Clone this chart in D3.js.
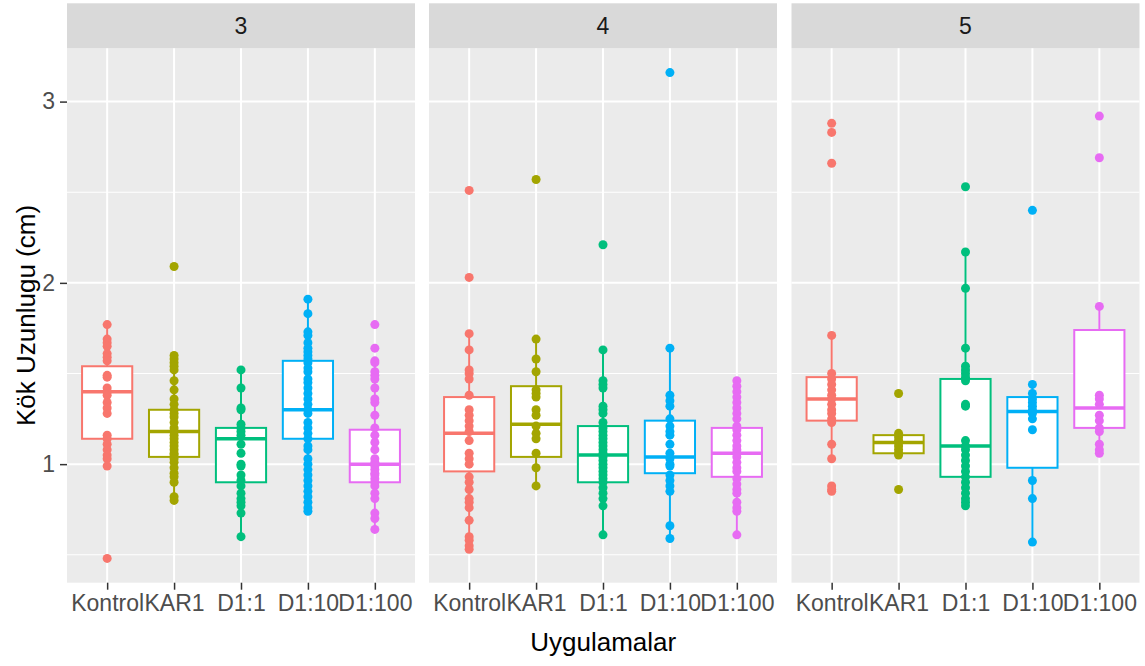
<!DOCTYPE html>
<html>
<head>
<meta charset="utf-8">
<script src="https://cdn.jsdelivr.net/npm/d3@7"></script>
<style>
  body { margin: 0; background: #fff; }
  text { font-family: "Liberation Sans", Arial, sans-serif; }
</style>
</head>
<body>
<svg id="chart" width="1145" height="666"></svg>
<script>
// Data
var categories = ['Kontrol', 'KAR1', 'D1:1', 'D1:10', 'D1:100'],
	panels = ['3', '4', '5'],
	colors = ['#F8766D', '#A3A500', '#00BF7D', '#00B0F6', '#E76BF3'];

// points per panel, one array per category
var points3 = [
	[1.77,1.69,1.67,1.65,1.61,1.59,1.57,1.49,1.48,1.42,1.40,1.38,1.34,1.31,1.28,1.16,1.14,1.11,1.08,1.05,1.03,0.99,0.48],
	[2.09,1.60,1.58,1.56,1.54,1.52,1.46,1.41,1.36,1.33,1.30,1.28,1.26,1.23,1.20,1.18,1.16,1.14,1.12,1.10,1.08,1.06,1.05,1.03,1.01,0.98,0.95,0.93,0.90,0.82,0.80],
	[1.52,1.42,1.31,1.30,1.22,1.20,1.18,1.16,1.11,1.06,1.00,0.99,0.94,0.91,0.88,0.84,0.81,0.79,0.77,0.73,0.60],
	[1.91,1.83,1.73,1.71,1.67,1.64,1.62,1.60,1.58,1.56,1.53,1.51,1.47,1.45,1.42,1.39,1.36,1.33,1.30,1.28,1.23,1.20,1.17,1.14,1.10,1.08,1.03,1.00,0.97,0.94,0.91,0.88,0.85,0.82,0.79,0.76,0.74],
	[1.77,1.64,1.57,1.56,1.51,1.49,1.47,1.42,1.36,1.34,1.27,1.20,1.16,1.12,1.08,1.03,1.01,0.99,0.97,0.95,0.94,0.92,0.90,0.88,0.84,0.81,0.73,0.70,0.64]
];
var points4 = [
	[2.51,2.03,1.72,1.63,1.52,1.50,1.47,1.38,1.30,1.27,1.24,1.21,1.18,1.13,1.06,1.03,1.00,0.93,0.90,0.86,0.81,0.79,0.76,0.69,0.60,0.58,0.55,0.53],
	[2.57,1.69,1.58,1.51,1.41,1.39,1.37,1.30,1.27,1.21,1.17,1.14,1.06,0.98,0.88],
	[2.21,1.63,1.46,1.44,1.42,1.32,1.30,1.28,1.23,1.20,1.18,1.16,1.14,1.12,1.10,1.08,1.06,1.04,1.02,1.00,0.98,0.96,0.94,0.92,0.90,0.87,0.84,0.81,0.77,0.61],
	[3.16,1.64,1.38,1.35,1.32,1.25,1.21,1.18,1.16,1.11,1.06,1.03,1.00,0.99,0.94,0.91,0.88,0.85,0.66,0.59],
	[1.46,1.43,1.40,1.37,1.34,1.31,1.28,1.25,1.21,1.19,1.16,1.13,1.10,1.08,1.06,1.04,1.01,0.98,0.96,0.92,0.89,0.86,0.84,0.79,0.76,0.74,0.61]
];
var points5 = [
	[2.88,2.83,2.66,1.71,1.50,1.47,1.44,1.41,1.38,1.36,1.33,1.30,1.28,1.25,1.23,1.11,1.03,0.88,0.86,0.85],
	[1.39,1.17,1.15,1.13,1.12,1.10,1.08,1.06,1.05,0.86],
	[2.53,2.17,1.97,1.64,1.54,1.52,1.50,1.48,1.46,1.33,1.32,1.13,1.10,1.08,1.05,1.02,0.99,0.96,0.93,0.90,0.87,0.84,0.81,0.79,0.77],
	[2.40,1.44,1.39,1.36,1.34,1.32,1.30,1.28,1.25,1.19,0.91,0.81,0.57],
	[2.92,2.69,1.87,1.38,1.36,1.33,1.27,1.24,1.20,1.18,1.11,1.08,1.06]
];

// box stats per category: [lower whisker, q1, median, q3, upper whisker]
var box3 = [[0.99,1.14,1.40,1.54,1.77],[0.80,1.04,1.18,1.30,1.60],[0.60,0.90,1.14,1.20,1.52],[0.74,1.14,1.30,1.57,1.91],[0.64,0.90,1.00,1.19,1.57]],
	box4 = [[0.53,0.96,1.17,1.37,1.72],[0.88,1.04,1.22,1.43,1.69],[0.61,0.90,1.05,1.21,1.63],[0.59,0.95,1.04,1.24,1.64],[0.61,0.93,1.06,1.20,1.46]],
	box5 = [[1.03,1.24,1.36,1.48,1.71],[1.05,1.06,1.12,1.16,1.17],[0.77,0.93,1.10,1.47,2.17],[0.57,0.98,1.29,1.37,1.44],[1.06,1.20,1.31,1.74,1.87]];

var yTicks = [1, 2, 3],
	yMinor = [0.5, 1.5, 2.5];

var allPoints = [points3, points4, points5],
	allBoxes = [box3, box4, box5];

// Layout
var svg = d3.select('#chart'),
	panelX = [67, 429, 791.5],
	panelW = 348,
	plotTop = 48.3, plotBottom = 582.7,
	stripTop = 3.3,
	axisFont = 23;

var ext = d3.extent(d3.merge(allPoints.map(function(p) { return d3.merge(p); }))),
	pad = (ext[1] - ext[0]) * 0.05;
var y = d3.scaleLinear().domain([ext[0] - pad, ext[1] + pad]).range([plotBottom, plotTop]);

panels.forEach(function(p, pi) {
	var x0 = panelX[pi];
	var x = d3.scalePoint().domain(categories).range([x0, x0 + panelW]).padding(0.6);
	var bw = x.step() * 0.75;
	var g = svg.append('g');

	// panel background
	g.append('rect').attr('x', x0).attr('y', plotTop).attr('width', panelW).attr('height', plotBottom - plotTop).attr('fill', '#EBEBEB');
	// strip
	g.append('rect').attr('x', x0).attr('y', stripTop).attr('width', panelW).attr('height', plotTop - stripTop).attr('fill', '#D9D9D9');
	g.append('text').attr('x', x0 + panelW / 2).attr('y', (stripTop + plotTop) / 2).attr('dy', '0.36em')
		.attr('text-anchor', 'middle').attr('font-size', axisFont).attr('fill', '#1A1A1A').text(p);

	// grid
	g.selectAll('.minor').data(yMinor).enter().append('line')
		.attr('x1', x0).attr('x2', x0 + panelW)
		.attr('y1', function(d) { return y(d); }).attr('y2', function(d) { return y(d); })
		.attr('stroke', '#fff').attr('stroke-width', 1);
	g.selectAll('.major').data(yTicks).enter().append('line')
		.attr('x1', x0).attr('x2', x0 + panelW)
		.attr('y1', function(d) { return y(d); }).attr('y2', function(d) { return y(d); })
		.attr('stroke', '#fff').attr('stroke-width', 2);
	g.selectAll('.vmajor').data(categories).enter().append('line')
		.attr('x1', function(d) { return x(d); }).attr('x2', function(d) { return x(d); })
		.attr('y1', plotTop).attr('y2', plotBottom)
		.attr('stroke', '#fff').attr('stroke-width', 2);

	// boxes
	var boxes = allBoxes[pi];
	var bg = g.selectAll('.box').data(categories).enter().append('g');
	bg.append('line')
		.attr('x1', function(d) { return x(d); }).attr('x2', function(d) { return x(d); })
		.attr('y1', function(d, i) { return y(boxes[i][0]); }).attr('y2', function(d, i) { return y(boxes[i][4]); })
		.attr('stroke', function(d, i) { return colors[i]; }).attr('stroke-width', 2);
	bg.append('rect')
		.attr('x', function(d) { return x(d) - bw / 2; }).attr('width', bw)
		.attr('y', function(d, i) { return y(boxes[i][3]); })
		.attr('height', function(d, i) { return y(boxes[i][1]) - y(boxes[i][3]); })
		.attr('fill', '#fff').attr('stroke', function(d, i) { return colors[i]; }).attr('stroke-width', 2);
	bg.append('line')
		.attr('x1', function(d) { return x(d) - bw / 2; }).attr('x2', function(d) { return x(d) + bw / 2; })
		.attr('y1', function(d, i) { return y(boxes[i][2]); }).attr('y2', function(d, i) { return y(boxes[i][2]); })
		.attr('stroke', function(d, i) { return colors[i]; }).attr('stroke-width', 3.5);

	// points
	var pts = allPoints[pi];
	categories.forEach(function(c, ci) {
		g.selectAll('.pt' + ci).data(pts[ci]).enter().append('circle')
			.attr('cx', x(c)).attr('cy', function(d) { return y(d); }).attr('r', 4.5)
			.attr('fill', colors[ci]);
	});

	// x axis
	var ax = d3.axisBottom(x).tickSize(7).tickPadding(5);
	var axg = g.append('g').attr('transform', 'translate(0,' + plotBottom + ')').call(ax);
	axg.select('.domain').remove();
	axg.selectAll('line').attr('stroke', '#333').attr('stroke-width', 1.5);
	axg.selectAll('text').attr('font-size', axisFont).attr('fill', '#4D4D4D').attr('font-family', '"Liberation Sans", Arial, sans-serif');
});

// y axis
var ay = d3.axisLeft(y).tickValues(yTicks).tickFormat(d3.format('d')).tickSize(7).tickPadding(5);
var ayg = svg.append('g').attr('transform', 'translate(' + panelX[0] + ',0)').call(ay);
ayg.select('.domain').remove();
ayg.selectAll('line').attr('stroke', '#333').attr('stroke-width', 1.5);
ayg.selectAll('text').attr('font-size', axisFont).attr('fill', '#4D4D4D').attr('font-family', '"Liberation Sans", Arial, sans-serif');

// titles
svg.append('text').attr('x', (panelX[0] + panelX[2] + panelW) / 2).attr('y', 651)
	.attr('text-anchor', 'middle').attr('font-size', 26).attr('fill', '#000').text('Uygulamalar');
svg.append('text').attr('transform', 'translate(35,' + (plotTop + plotBottom) / 2 + ') rotate(-90)')
	.attr('text-anchor', 'middle').attr('font-size', 26).attr('fill', '#000').text('Kök Uzunlugu (cm)');
</script>
</body>
</html>
